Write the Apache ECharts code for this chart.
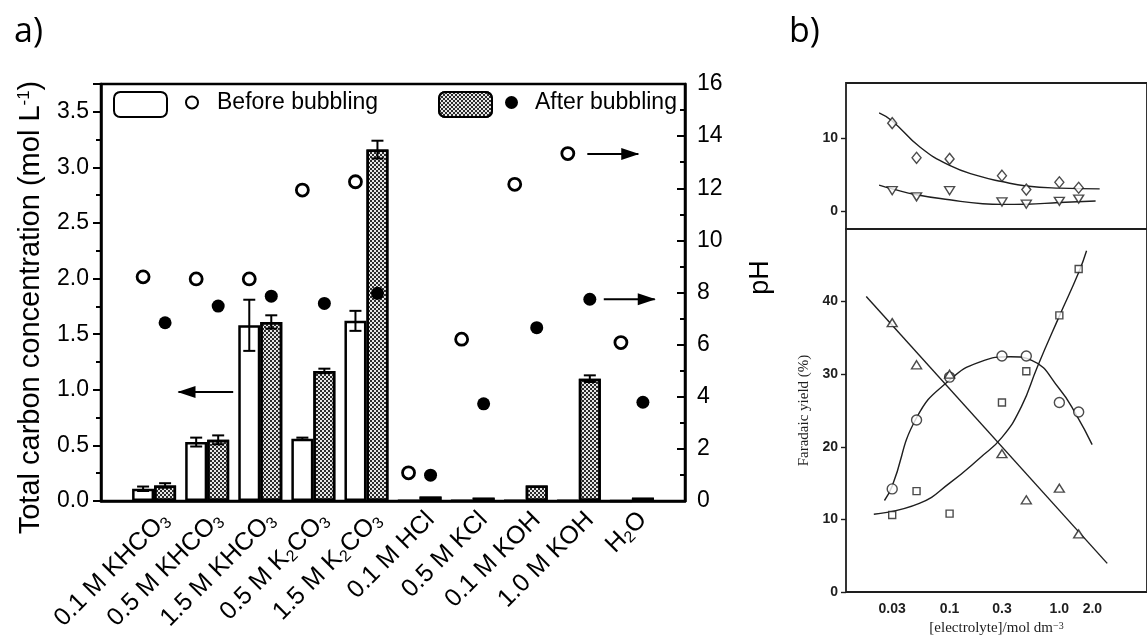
<!DOCTYPE html>
<html>
<head>
<meta charset="utf-8">
<script src="https://cdn.jsdelivr.net/npm/echarts@6/dist/echarts.min.js"></script>
<style>
  html, body { margin: 0; padding: 0; background: #fff; }
  #chart { width: 1147px; height: 641px; }
</style>
</head>
<body>
<div id="chart"></div>
<script>
// ---- panel a: total carbon (bars, left axis) and pH (circles, right axis)
const categories = ['0.1 M KHCO3', '0.5 M KHCO3', '1.5 M KHCO3', '0.5 M K2CO3', '1.5 M K2CO3',
  '0.1 M HCl', '0.5 M KCl', '0.1 M KOH', '1.0 M KOH', 'H2O']
const tcBefore = [0.11, 0.53, 1.58, 0.56, 1.62, 0.005, 0.005, 0.005, 0.005, 0]
const tcBeforeErr = [0.02, 0.04, 0.23, 0.01, 0.09, 0, 0, 0, 0, 0]
const tcAfter = [0.14, 0.55, 1.61, 1.17, 3.16, 0.04, 0.03, 0.14, 1.10, 0.03]
const tcAfterErr = [0.02, 0.04, 0.06, 0.02, 0.08, 0, 0, 0, 0.03, 0]
const phBefore = [8.6, 8.52, 8.52, 11.93, 12.25, 1.08, 6.21, 12.15, 13.33, 6.08]
const phAfter = [6.84, 7.48, 7.86, 7.58, 7.97, 0.99, 3.73, 6.65, 7.74, 3.79]
// arrows: [tail, tip] as (slot position, value)
const tcArrow = [[2.49, 0.98], [1.46, 0.98]]
const phArrows = [[[9.16, 13.31], [10.12, 13.31]], [[9.47, 7.74], [10.43, 7.74]]]

// ---- panel b: faradaic yield vs electrolyte concentration
const bConc = [0.03, 0.05, 0.1, 0.3, 0.5, 1.0, 1.5]
const bDiamond = [12.0, 7.25, 7.1, 4.8, 2.9, 3.9, 3.15]
const bTriDown = [2.75, 1.9, 2.75, 1.2, 0.9, 1.3, 1.6]
const bCircle = [14.2, 23.7, 29.6, 32.5, 32.5, 26.1, 24.8]
const bSquare = [10.6, 13.9, 10.8, 26.1, 30.4, 38.1, 44.5]
const bTriUp = [37.1, 31.3, 30.0, 19.05, 12.7, 14.3, 8.0]
const bDiamondFit = [[0.0228, 13.4], [0.03, 12.3], [0.053, 8.8], [0.1, 6.2], [0.19, 4.7], [0.3, 4.0], [0.5, 3.4], [1.0, 3.1], [2.33, 3.0]]
const bTriDownFit = [[0.0228, 3.5], [0.03, 3.0], [0.05, 2.2], [0.1, 1.5], [0.2, 0.96], [0.3, 0.87], [0.5, 0.9], [1.0, 1.14], [2.14, 1.33]]
const bCircleFit = [[0.0255, 12.6], [0.03, 14.6], [0.05, 24.0], [0.1, 29.2], [0.19, 31.7], [0.36, 32.4], [0.56, 31.9], [1.0, 28.0], [1.44, 24.3], [1.99, 20.3]]
const bSquareFit = [[0.0204, 10.7], [0.053, 12.2], [0.1, 15.0], [0.19, 18.5], [0.3, 21.3], [0.45, 25.5], [0.63, 31.0], [1.0, 38.0], [1.5, 44.0], [1.77, 47.0]]
const bTriUpFit = [[0.0174, 40.7], [2.73, 3.94]]
const bTicks = [0.03, 0.1, 0.3, 1.0, 2.0]
const bTickLabels = ['0.03', '0.1', '0.3', '1.0', '2.0']
const bRange = [0.01138, 6.29]

const SANS = 'Liberation Sans, Arial, sans-serif'
const SERIF = 'Liberation Serif, Times New Roman, serif'
const BAR_W = 22
const slots = ['', ...categories, '']

const chart = echarts.init(document.getElementById('chart'))

function errorBars (offset) {
  return function (params, api) {
    const err = api.value(2)
    if (!err) return null
    const hi = api.coord([api.value(0), api.value(1) + err])
    const lo = api.coord([api.value(0), api.value(1) - err])
    const x = hi[0] + offset
    const cap = 6
    const style = { stroke: '#000', lineWidth: 2 }
    return {
      type: 'group',
      children: [
        { type: 'line', shape: { x1: x, y1: hi[1], x2: x, y2: lo[1] }, style },
        { type: 'line', shape: { x1: x - cap, y1: hi[1], x2: x + cap, y2: hi[1] }, style },
        { type: 'line', shape: { x1: x - cap, y1: lo[1], x2: x + cap, y2: lo[1] }, style }
      ]
    }
  }
}

// arrow = shaft (line) + head (rotated triangle at the tip)
function arrowSeries (arrow, yAxisIndex) {
  const [tail, tip] = arrow
  const pointsLeft = tip[0] < tail[0]
  return [
    { type: 'line', xAxisIndex: 2, yAxisIndex, data: [tail, tip], showSymbol: false, silent: true,
      lineStyle: { color: '#000', width: 2 }, z: 3 },
    { type: 'scatter', xAxisIndex: 2, yAxisIndex, data: [tip], silent: true, z: 3,
      symbol: 'triangle', symbolSize: [12, 18], symbolRotate: pointsLeft ? 90 : -90,
      symbolOffset: [pointsLeft ? 8 : -8, 0], itemStyle: { color: '#000', opacity: 1 } }
  ]
}

const toLog = pts => pts.map(p => [Math.log10(p[0]), p[1]])
const pairs = ys => bConc.map((x, i) => [Math.log10(x), ys[i]])

const hatch = {
  color: '#2b2b2b',
  symbol: 'rect',
  symbolSize: 1,
  dashArrayX: [[2, 2], [0, 2, 2, 0]],
  dashArrayY: [2, 0],
  rotation: 0
}

const bLine = { color: '#1e1e1e', width: 1.4 }
const bOpen = { color: '#fff', borderColor: '#1e1e1e', borderWidth: 1.4 }
const bLabel = { color: '#1e1e1e', fontFamily: SANS, fontWeight: 'bold', fontSize: 14 }
const noLine = { show: false, onZero: false }

const option = {
  animation: false,
  backgroundColor: '#fff',
  graphic: [
    { type: 'text', left: 14, top: 15, style: { text: 'a)', font: '34px Open Sans, sans-serif', fill: '#000' } },
    { type: 'text', left: 789, top: 15, style: { text: 'b)', font: '34px Open Sans, sans-serif', fill: '#000' } }
  ],
  legend: [
    { data: ['TC before'], left: 113, top: 91, padding: 0, itemWidth: 53, itemHeight: 25, formatter: () => '', selectedMode: false },
    { data: ['Before bubbling'], left: 185, top: 91, padding: 0, itemWidth: 40, itemHeight: 12, selectedMode: false,
      textStyle: { fontFamily: SANS, fontSize: 23, color: '#000' } },
    { data: ['TC after'], left: 438, top: 91, padding: 0, itemWidth: 53, itemHeight: 25, formatter: () => '', selectedMode: false },
    { data: ['After bubbling'], left: 505, top: 91, padding: 0, itemWidth: 37, itemHeight: 13, selectedMode: false,
      textStyle: { fontFamily: SANS, fontSize: 23, color: '#000' } }
  ],
  grid: [
    { left: 101, right: 462, top: 84, bottom: 140, show: true, borderColor: '#000', borderWidth: 2.5 },
    { left: 112, right: 451, top: 84, bottom: 140 },
    { left: 846, right: -30, top: 83, height: 146, show: true, borderColor: '#1e1e1e', borderWidth: 1.8 },
    { left: 846, right: -30, top: 229, bottom: 49, show: true, borderColor: '#1e1e1e', borderWidth: 1.8 }
  ],
  xAxis: [
    { gridIndex: 0, type: 'category', data: slots, boundaryGap: false,
      axisLine: { lineStyle: { color: '#000', width: 2.5 } }, axisTick: { show: false }, axisLabel: { show: false } },
    { gridIndex: 1, type: 'category', data: slots, boundaryGap: false,
      axisLine: { show: false }, axisTick: { show: false },
      axisLabel: {
        interval: 0, rotate: 45, margin: 15, color: '#000', fontFamily: SANS, fontSize: 25, lineHeight: 28,
        formatter: v => v.replace(/([A-Za-z])(\d)/g, '$1{s|$2}'),
        rich: { s: { fontFamily: SANS, fontSize: 16, lineHeight: 10, verticalAlign: 'bottom', color: '#000' } }
      } },
    { gridIndex: 0, type: 'value', min: 0, max: 11, show: false },
    { gridIndex: 2, type: 'value', min: Math.log10(bRange[0]), max: Math.log10(bRange[1]),
      axisLine: noLine, axisTick: { show: false }, axisLabel: { show: false }, splitLine: { show: false } },
    { gridIndex: 3, type: 'value', min: Math.log10(bRange[0]), max: Math.log10(bRange[1]),
      axisLine: noLine, axisTick: { show: false }, splitLine: { show: false },
      axisLabel: {
        ...bLabel, margin: 10, customValues: bTicks.map(Math.log10),
        formatter: v => {
          const i = bTicks.findIndex(t => Math.abs(Math.log10(t) - v) < 1e-6)
          return i >= 0 ? bTickLabels[i] : ''
        }
      },
      name: '[electrolyte]/mol dm{sup|−3}', nameLocation: 'middle', nameGap: 24,
      nameTextStyle: { fontFamily: SERIF, fontSize: 15, color: '#1e1e1e',
        rich: { sup: { fontFamily: SERIF, fontSize: 10, verticalAlign: 'top', lineHeight: 10, color: '#1e1e1e' } } } }
  ],
  yAxis: [
    { gridIndex: 0, type: 'value', position: 'left', min: 0, max: 3.75, interval: 0.5,
      axisLine: { show: true, lineStyle: { color: '#000', width: 2.5 } },
      axisTick: { show: true, length: 8, lineStyle: { color: '#000', width: 2 } },
      minorTick: { show: true, splitNumber: 2, length: 5, lineStyle: { color: '#000', width: 2 } },
      splitLine: { show: false },
      axisLabel: { margin: 12, color: '#000', fontFamily: SANS, fontSize: 23, showMaxLabel: false, formatter: v => v.toFixed(1) },
      name: 'Total carbon concentration (mol L{sup|-1})', nameLocation: 'middle', nameGap: 56,
      nameTextStyle: { fontFamily: SANS, fontSize: 29, color: '#000', padding: [0, 30, 0, 0],
        rich: { sup: { fontFamily: SANS, fontSize: 17, verticalAlign: 'top', lineHeight: 14, color: '#000' } } } },
    { gridIndex: 0, type: 'value', position: 'right', min: 0, max: 16, interval: 2,
      axisLine: { show: true, lineStyle: { color: '#000', width: 2.5 } },
      axisTick: { show: true, inside: true, length: 8, lineStyle: { color: '#000', width: 2 } },
      minorTick: { show: true, splitNumber: 2, length: 5, lineStyle: { color: '#000', width: 2 } },
      splitLine: { show: false },
      axisLabel: { margin: 12, color: '#000', fontFamily: SANS, fontSize: 23 },
      name: 'pH', nameLocation: 'middle', nameGap: 62, nameRotate: 90,
      nameTextStyle: { fontFamily: SANS, fontSize: 27, color: '#000', padding: [0, 0, 0, 30] } },
    { gridIndex: 1, type: 'value', min: 0, max: 1, show: false },
    { gridIndex: 2, type: 'value', min: -2.5, max: 17.5,
      axisLine: noLine, splitLine: { show: false },
      axisTick: { show: true, length: 5, customValues: [0, 10], lineStyle: { color: '#1e1e1e', width: 1.4 } },
      axisLabel: { ...bLabel, margin: 8, customValues: [0, 10] } },
    { gridIndex: 3, type: 'value', min: 0, max: 50,
      axisLine: noLine, splitLine: { show: false },
      axisTick: { show: true, length: 5, customValues: [0, 10, 20, 30, 40], lineStyle: { color: '#1e1e1e', width: 1.4 } },
      axisLabel: { ...bLabel, margin: 8, customValues: [0, 10, 20, 30, 40] },
      name: 'Faradaic yield (%)', nameLocation: 'middle', nameGap: 34,
      nameTextStyle: { fontFamily: SERIF, fontSize: 15, color: '#1e1e1e' } }
  ],
  series: [
    { name: 'TC before', type: 'bar', xAxisIndex: 0, yAxisIndex: 0, barWidth: BAR_W, barGap: '0%',
      data: tcBefore.map((v, i) => [i + 1, v]),
      itemStyle: { color: '#fff', borderColor: '#000', borderWidth: 2.5 } },
    { name: 'TC after', type: 'bar', xAxisIndex: 0, yAxisIndex: 0, barWidth: BAR_W, barGap: '0%',
      data: tcAfter.map((v, i) => [i + 1, v]),
      itemStyle: { color: '#e6e6e6', borderColor: '#000', borderWidth: 2.5, decal: hatch } },
    { type: 'custom', xAxisIndex: 0, yAxisIndex: 0, z: 5, renderItem: errorBars(-BAR_W / 2),
      data: tcBefore.map((v, i) => [i + 1, v, tcBeforeErr[i]]) },
    { type: 'custom', xAxisIndex: 0, yAxisIndex: 0, z: 5, renderItem: errorBars(BAR_W / 2),
      data: tcAfter.map((v, i) => [i + 1, v, tcAfterErr[i]]) },
    { name: 'Before bubbling', type: 'scatter', xAxisIndex: 0, yAxisIndex: 1, z: 6,
      symbol: 'circle', symbolSize: 12, symbolOffset: [-BAR_W / 2, 0],
      data: phBefore.map((v, i) => [i + 1, v]),
      itemStyle: { color: '#fff', borderColor: '#000', borderWidth: 2.8, opacity: 1 } },
    { name: 'After bubbling', type: 'scatter', xAxisIndex: 0, yAxisIndex: 1, z: 6,
      symbol: 'circle', symbolSize: 13, symbolOffset: [BAR_W / 2, 0],
      data: phAfter.map((v, i) => [i + 1, v]),
      itemStyle: { color: '#000', opacity: 1 } },
    ...arrowSeries(tcArrow, 0),
    ...phArrows.flatMap(a => arrowSeries(a, 1)),
    // panel b, top
    { type: 'line', xAxisIndex: 3, yAxisIndex: 3, data: toLog(bDiamondFit), smooth: true, showSymbol: false, lineStyle: bLine, silent: true },
    { type: 'line', xAxisIndex: 3, yAxisIndex: 3, data: toLog(bTriDownFit), smooth: true, showSymbol: false, lineStyle: bLine, silent: true },
    { type: 'scatter', xAxisIndex: 3, yAxisIndex: 3, data: pairs(bDiamond), symbol: 'diamond', symbolSize: [9, 11], itemStyle: bOpen, z: 4 },
    { type: 'scatter', xAxisIndex: 3, yAxisIndex: 3, data: pairs(bTriDown), symbol: 'triangle', symbolRotate: 180, symbolSize: [10, 8], itemStyle: bOpen, z: 4 },
    // panel b, bottom
    { type: 'line', xAxisIndex: 4, yAxisIndex: 4, data: toLog(bCircleFit), smooth: true, showSymbol: false, lineStyle: bLine, silent: true },
    { type: 'line', xAxisIndex: 4, yAxisIndex: 4, data: toLog(bSquareFit), smooth: true, showSymbol: false, lineStyle: bLine, silent: true },
    { type: 'line', xAxisIndex: 4, yAxisIndex: 4, data: toLog(bTriUpFit), showSymbol: false, lineStyle: bLine, silent: true },
    { type: 'scatter', xAxisIndex: 4, yAxisIndex: 4, data: pairs(bCircle), symbol: 'circle', symbolSize: 10, itemStyle: bOpen, z: 4 },
    { type: 'scatter', xAxisIndex: 4, yAxisIndex: 4, data: pairs(bSquare), symbol: 'rect', symbolSize: 7, itemStyle: bOpen, z: 4 },
    { type: 'scatter', xAxisIndex: 4, yAxisIndex: 4, data: pairs(bTriUp), symbol: 'triangle', symbolSize: [10, 8], itemStyle: bOpen, z: 4 }
  ]
}

chart.setOption(option)
</script>
</body>
</html>
